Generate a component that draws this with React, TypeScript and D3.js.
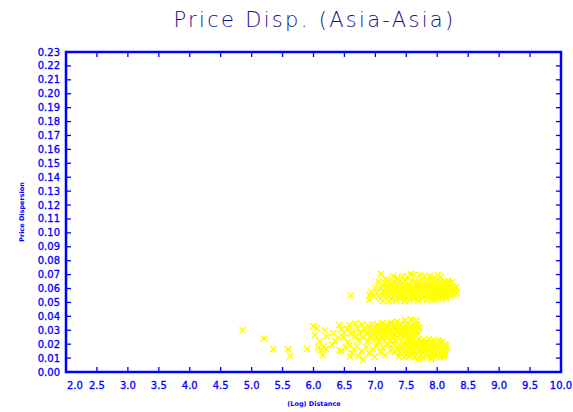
import React from "react";
import * as d3 from "d3";

// Tick values for both axes
const xTickValues: number[] = [2.0, 2.5, 3.0, 3.5, 4.0, 4.5, 5.0, 5.5, 6.0, 6.5, 7.0, 7.5, 8.0, 8.5, 9.0, 9.5, 10.0];
const yTickValues: number[] = [
  0.0, 0.01, 0.02, 0.03, 0.04, 0.05, 0.06, 0.07, 0.08, 0.09, 0.1, 0.11,
  0.12, 0.13, 0.14, 0.15, 0.16, 0.17, 0.18, 0.19, 0.2, 0.21, 0.22, 0.23,
];

// Observations: [log distance, price dispersion]
// Upper group (dispersion ~0.05-0.07)
const upperGroup: [number, number][] = [
  [7.09, .0705], [7.29, .069], [7.44, .069], [7.57, .0705], [7.62, .0698], [7.72, .0697], [7.80, .0688],
  [7.88, .069], [8.01, .0697], [8.06, .0685], [7.52, .0682], [7.35, .0675], [7.17, .0668], [7.95, .0678],
  [7.05, .065], [7.20, .0655], [7.31, .0648], [7.40, .066], [7.48, .0652], [7.58, .0658], [7.66, .0649],
  [7.75, .0661], [7.83, .0653], [7.90, .0662], [7.98, .0651], [8.05, .0658], [8.12, .0648], [8.18, .0655],
  [8.24, .0646],
  [7.15, .0638], [7.29, .0641], [7.44, .0636], [7.64, .064], [7.71, .0644], [7.79, .0637], [7.85, .0642],
  [7.96, .0639], [8.02, .0643], [8.09, .0636], [8.15, .064], [8.21, .0637],
  [7.12, .0622], [7.19, .0615], [7.26, .0628], [7.33, .062], [7.41, .0632], [7.47, .0617], [7.55, .0626],
  [7.61, .0613], [7.68, .0631], [7.74, .062], [7.81, .0627], [7.87, .0616], [7.93, .063], [7.99, .0621],
  [8.06, .0633], [8.12, .0619], [8.18, .0627], [8.25, .0618], [8.31, .0613],
  [7.20, .0608], [7.38, .0611], [7.53, .0609], [7.66, .0612], [7.72, .0608], [7.78, .0613], [7.85, .0609],
  [7.91, .0612], [7.97, .0608], [8.04, .0611], [8.10, .0607], [8.16, .0612], [8.23, .0609], [8.29, .0605],
  [7.08, .0598], [7.16, .0605], [7.23, .0594], [7.30, .0601], [7.36, .0592], [7.43, .0604], [7.50, .0596],
  [7.57, .0603], [7.63, .0591], [7.70, .0606], [7.76, .0597], [7.83, .0602], [7.89, .0593], [7.95, .0605],
  [8.01, .0598], [8.08, .0591], [8.14, .0603], [8.20, .0595], [8.27, .0601],
  [7.13, .0583], [7.27, .0586], [7.42, .0582], [7.55, .0587], [7.68, .0583], [7.75, .0588], [7.81, .0584],
  [7.88, .0587], [7.94, .0582], [8.01, .0586], [8.07, .0583], [8.14, .0588], [8.20, .0582], [8.26, .0586],
  [7.02, .0572], [7.10, .0568], [7.18, .0575], [7.25, .0565], [7.32, .0578], [7.39, .0569], [7.46, .0574],
  [7.53, .0563], [7.60, .0577], [7.66, .0568], [7.73, .0572], [7.79, .0564], [7.86, .0576], [7.92, .0567],
  [7.98, .0573], [8.04, .0565], [8.11, .0577], [8.17, .0569], [8.23, .0574], [8.31, .0565],
  [7.16, .0556], [7.31, .0558], [7.48, .0555], [7.62, .0557], [7.76, .0556], [7.90, .0558], [8.03, .0555],
  [8.12, .0557], [8.26, .0559],
  [6.91, .0553], [7.05, .0543], [7.13, .0548], [7.21, .0539], [7.28, .0546], [7.35, .0541], [7.43, .055],
  [7.51, .0538], [7.58, .0545], [7.65, .0537], [7.72, .0549], [7.80, .0542], [7.87, .0547], [7.94, .0539],
  [8.00, .0551], [8.08, .0544], [8.15, .0549], [8.21, .0553],
  [7.08, .0528], [7.26, .0525], [7.40, .053], [7.61, .0527], [7.76, .0531], [7.91, .0526], [8.02, .053],
  [8.14, .0533],
  [6.90, .0518], [7.12, .0512], [7.22, .0508], [7.34, .0515], [7.47, .0509], [7.56, .0517], [7.69, .0511],
  [7.84, .0516], [7.96, .0519], [8.07, .0521],
  [6.60, .055], [6.93, .0575], [6.97, .0545], [7.00, .0605],
];

// Middle band (dispersion ~0.02-0.038)
const middleGroup: [number, number][] = [
  [7.35, .0362], [7.48, .0371], [7.58, .0378], [7.66, .0369], [7.25, .0355], [7.12, .0352],
  [6.42, .0338], [6.58, .0338], [6.68, .035], [6.78, .0342], [6.88, .0336], [6.95, .0345], [7.03, .0339],
  [7.10, .0346], [7.18, .0337], [7.26, .0344], [7.33, .0335], [7.40, .0347], [7.47, .0338], [7.54, .0345],
  [7.61, .0336], [7.68, .0343],
  [6.99, .0324], [7.07, .0327], [7.14, .0322], [7.22, .0328], [7.29, .0323], [7.36, .0327], [7.43, .0322],
  [7.51, .0328], [7.58, .0324], [7.65, .0327], [7.71, .0323],
  [6.00, .033], [6.05, .0315], [6.18, .030], [6.45, .0305], [6.55, .031], [6.63, .0298], [6.72, .0312],
  [6.82, .0303], [6.90, .0316], [6.97, .0306], [7.04, .0318], [7.11, .0304], [7.17, .0313], [7.24, .0301],
  [7.30, .0317], [7.37, .0308], [7.44, .0314], [7.50, .0302], [7.57, .0315], [7.63, .0306], [7.70, .0312],
  [7.01, .0294], [7.09, .0297], [7.17, .0292], [7.25, .0296], [7.33, .0293], [7.40, .0298], [7.46, .0293],
  [7.53, .0297], [7.60, .0292], [7.67, .0296],
  [6.32, .028], [6.50, .0285], [6.60, .0276], [6.75, .0282], [6.86, .0274], [6.93, .0288], [7.00, .0279],
  [7.07, .0286], [7.14, .0275], [7.21, .0289], [7.28, .0278], [7.35, .0284], [7.41, .0273], [7.48, .0287],
  [7.55, .0279], [7.62, .0285], [7.69, .0276],
  [6.96, .0265], [7.05, .0268], [7.13, .0263], [7.23, .0267], [7.31, .0262], [7.40, .0266], [7.49, .0263],
  [7.57, .0267], [7.64, .0264],
  [6.02, .0266], [6.22, .0255], [6.40, .0244], [6.48, .025], [6.68, .0258], [6.80, .0247], [6.92, .0255],
  [7.02, .0249], [7.10, .0258], [7.18, .0246], [7.27, .0253], [7.36, .0244], [7.45, .0257], [7.53, .0248],
  [7.60, .0255],
  [6.10, .022], [6.35, .0225], [6.55, .0215], [6.72, .0228], [6.88, .0221], [6.98, .0232], [7.06, .0218],
  [7.15, .0226], [7.24, .0219], [7.32, .0229],
];

// Lower scatter (short distances and the low-dispersion tail)
const lowerScatter: [number, number][] = [
  [4.85, .0302], [5.20, .0242], [5.35, .0163], [5.59, .0163], [5.62, .0113], [5.90, .0165],
  [6.08, .0175], [6.12, .0155], [6.17, .0185], [6.20, .0165], [6.15, .012], [6.30, .0195], [6.42, .0158],
  [6.45, .015], [6.52, .0175], [6.58, .0195], [6.59, .011], [6.62, .0135], [6.65, .0165], [6.70, .0185],
  [6.72, .0115], [6.78, .015], [6.80, .009], [6.85, .018], [6.90, .0135], [6.95, .0165], [6.99, .011],
  [7.02, .019], [7.08, .0145], [7.12, .0175], [7.16, .012], [7.20, .0195], [7.25, .0155],
];

// Lower-right group (dispersion ~0.009-0.024)
const lowerGroup: [number, number][] = [
  [7.60, .0232], [7.70, .0238], [7.78, .0229], [7.86, .0236], [7.94, .0231], [8.02, .0227], [7.52, .0226],
  [7.48, .0216], [7.56, .0219], [7.66, .0214], [7.74, .0218], [7.82, .0215], [7.91, .022], [7.99, .0214],
  [8.07, .0218],
  [7.30, .0205], [7.38, .0198], [7.45, .0207], [7.52, .0196], [7.58, .0204], [7.64, .0195], [7.70, .0206],
  [7.76, .0197], [7.82, .0205], [7.88, .0194], [7.94, .0203], [8.00, .0196], [8.06, .0207], [8.12, .0198],
  [7.41, .0186], [7.51, .0188], [7.60, .0184], [7.68, .0189], [7.76, .0185], [7.84, .0188], [7.92, .0184],
  [8.00, .0187], [8.08, .0185], [8.14, .0189],
  [7.28, .0172], [7.35, .0166], [7.42, .0175], [7.48, .0164], [7.55, .0173], [7.61, .0163], [7.67, .0176],
  [7.73, .0167], [7.79, .0174], [7.85, .0165], [7.91, .0177], [7.97, .0166], [8.03, .0175], [8.09, .0164],
  [8.14, .0172],
  [7.44, .0155], [7.52, .0158], [7.62, .0154], [7.70, .0157], [7.80, .0153], [7.88, .0158], [7.98, .0155],
  [8.06, .0157], [8.12, .0153],
  [7.32, .0143], [7.40, .0137], [7.46, .0146], [7.53, .0136], [7.59, .0145], [7.65, .0134], [7.71, .0147],
  [7.77, .0138], [7.83, .0144], [7.89, .0135], [7.95, .0146], [8.01, .0137], [8.07, .0144], [8.13, .0136],
  [7.50, .0125], [7.60, .0127], [7.74, .0124], [7.86, .0126], [7.96, .0123], [8.04, .0127], [8.12, .0125],
  [7.38, .0112], [7.47, .0106], [7.55, .0114], [7.63, .0104], [7.70, .0113], [7.77, .0102], [7.84, .0111],
  [7.91, .0105], [7.98, .0113], [8.05, .0107], [8.11, .0112], [7.68, .0088], [7.90, .0092],
];

const W = 573;
const H = 412;
const left = 66;
const right = 561;
const top = 52;
const bottom = 372;

const AXIS = "#0000ff";
const MARK = "#ffff00";

export default function App() {
  const x = d3.scaleLinear().domain([2, 10]).range([left, right]);
  const y = d3.scaleLinear().domain([0, 0.23]).range([bottom, top]);
  const points = [...upperGroup, ...middleGroup, ...lowerScatter, ...lowerGroup];
  const s = 3;

  return (
    <svg
      width={W}
      height={H}
      style={{ position: "absolute", left: 0, top: 0, background: "#fff" }}
      fontFamily="DejaVu Sans, Verdana, sans-serif"
    >
      <text
        x={(left + right) / 2 + 1}
        y={27}
        textAnchor="middle"
        fontSize={21}
        fill="#10108c"
        fontWeight={200}
        letterSpacing={2.3}
      >
        Price Disp. (Asia-Asia)
      </text>

      {/* scatter markers */}
      <g stroke={MARK} strokeWidth={1.6}>
        {points.map(([dx, dy], i) => {
          const cx = x(dx);
          const cy = y(dy);
          return (
            <path key={i} d={`M${cx - s},${cy - s}L${cx + s},${cy + s}M${cx - s},${cy + s}L${cx + s},${cy - s}`} />
          );
        })}
      </g>

      {/* ticks on all four sides */}
      <g stroke={AXIS} strokeWidth={1.3}>
        {xTickValues.map((v) => (
          <g key={`xt${v}`}>
            <line x1={x(v)} x2={x(v)} y1={bottom} y2={bottom - 5} />
            <line x1={x(v)} x2={x(v)} y1={top} y2={top + 5} />
          </g>
        ))}
        {yTickValues.map((v) => (
          <g key={`yt${v}`}>
            <line x1={left} x2={left + 5} y1={y(v)} y2={y(v)} />
            <line x1={right} x2={right - 5} y1={y(v)} y2={y(v)} />
          </g>
        ))}
      </g>

      {/* frame */}
      <rect x={left} y={top} width={right - left} height={bottom - top} fill="none" stroke={AXIS} strokeWidth={2.5} />

      <g fill={AXIS} stroke={AXIS} strokeWidth={0.3} fontSize={10}>
        {yTickValues.map((v) => (
          <text key={`yl${v}`} x={left - 6} y={y(v) + 3.5} textAnchor="end">
            {d3.format(".2f")(v)}
          </text>
        ))}
        {xTickValues.map((v, i) => (
          <text
            key={`xl${v}`}
            x={i === 0 ? x(v) + 1 : x(v)}
            y={389}
            textAnchor={i === 0 ? "start" : "middle"}
          >
            {d3.format(".1f")(v)}
          </text>
        ))}
      </g>

      <text x={314} y={406} textAnchor="middle" fontSize={6.5} fontWeight="bold" fill={AXIS}>
        (Log) Distance
      </text>
      <text
        transform={`translate(24,212) rotate(-90)`}
        textAnchor="middle"
        fontSize={6.5}
        fontWeight="bold"
        fill={AXIS}
      >
        Price Dispersion
      </text>
    </svg>
  );
}
